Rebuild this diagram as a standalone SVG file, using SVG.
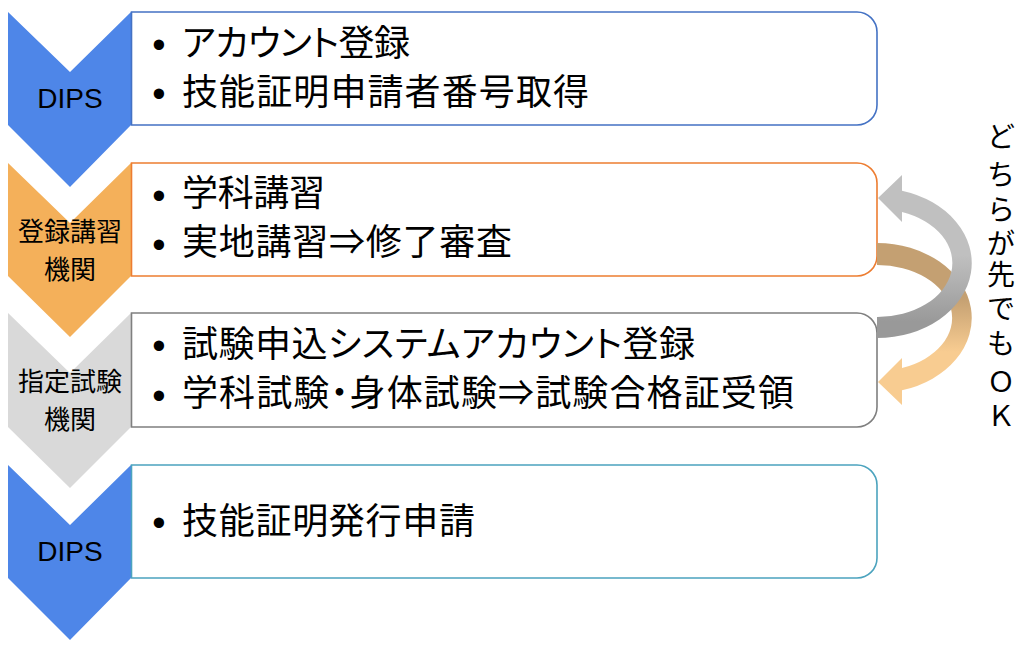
<svg xmlns="http://www.w3.org/2000/svg" width="1024" height="648" viewBox="0 0 1024 648">
<defs>
<style>
.box{fill:#fff;stroke-width:1.6}
.t{font-family:"Noto Sans CJK JP","Noto Sans",sans-serif;font-size:36px;fill:#000;font-feature-settings:"palt"}
.b{font-family:"Liberation Sans",Arial,sans-serif;font-size:38px;fill:#000;text-anchor:middle}
.lab{font-family:"Noto Sans CJK JP","Noto Sans",sans-serif;font-size:26px;fill:#000;text-anchor:middle}
.dips{font-family:"Liberation Sans",Arial,sans-serif;font-size:28px;fill:#000;text-anchor:middle}
.side{font-family:"Noto Sans CJK JP","Noto Sans",sans-serif;font-size:28px;fill:#000;text-anchor:middle}
</style>
<linearGradient id="gGray" gradientUnits="userSpaceOnUse" x1="0" y1="255" x2="0" y2="322">
<stop offset="0" stop-color="#C0C0C0"/>
<stop offset="1" stop-color="#999999"/>
</linearGradient>
<linearGradient id="gTan" gradientUnits="userSpaceOnUse" x1="0" y1="298" x2="0" y2="352">
<stop offset="0" stop-color="#C4A072"/>
<stop offset="1" stop-color="#F8CC91"/>
</linearGradient>
</defs>
<rect width="1024" height="648" fill="#fff"/>

<g id="chevron1">
<path d="M8 12 L70 72 L131 12 L131 125 L70 187 L8 125 Z" fill="#4E86E8"/>
<text class="dips" x="70" y="108">DIPS</text>
</g>
<g id="chevron2">
<path d="M8 163 L70 223 L131 163 L131 276 L70 337 L8 276 Z" fill="#F4B05A"/>
<text class="lab" x="70" y="241">登録講習</text>
<text class="lab" x="70" y="279">機関</text>
</g>
<g id="chevron3">
<path d="M8 313 L70 373 L131 313 L131 427 L70 488 L8 427 Z" fill="#D9D9D9"/>
<text class="lab" x="70" y="391">指定試験</text>
<text class="lab" x="70" y="429">機関</text>
</g>
<g id="chevron4">
<path d="M8 465 L70 525 L131 465 L131 578 L70 640 L8 578 Z" fill="#4E86E8"/>
<text class="dips" x="70" y="561">DIPS</text>
</g>

<g id="box1">
<path class="box" stroke="#4472C4" d="M131.5 12 H857 A20 20 0 0 1 877 32 V105 A20 20 0 0 1 857 125 H131.5 Z"/>
<text class="b" x="159" y="58">•</text>
<text class="t" x="182" y="55.5" textLength="228" lengthAdjust="spacing">アカウント登録</text>
<text class="b" x="159" y="107">•</text>
<text class="t" x="182" y="104.5" textLength="407" lengthAdjust="spacing">技能証明申請者番号取得</text>
</g>
<g id="box2">
<path class="box" stroke="#ED7D31" d="M131.5 163 H857 A20 20 0 0 1 877 183 V256 A20 20 0 0 1 857 276 H131.5 Z"/>
<text class="b" x="159" y="208.5">•</text>
<text class="t" x="182" y="206" textLength="143" lengthAdjust="spacing">学科講習</text>
<text class="b" x="159" y="257.5">•</text>
<text class="t" x="182" y="255" textLength="330" lengthAdjust="spacing">実地講習⇒修了審査</text>
</g>
<g id="box3">
<path class="box" stroke="#7F7F7F" d="M131.5 313 H857 A20 20 0 0 1 877 333 V407 A20 20 0 0 1 857 427 H131.5 Z"/>
<text class="b" x="159" y="359">•</text>
<text class="t" x="182" y="356.5" textLength="513" lengthAdjust="spacing">試験申込システムアカウント登録</text>
<text class="b" x="159" y="408.5">•</text>
<text class="t" x="182" y="406" textLength="612" lengthAdjust="spacing">学科試験・身体試験⇒試験合格証受領</text>
</g>
<g id="box4">
<path class="box" stroke="#4BA3BE" d="M131.5 465 H857 A20 20 0 0 1 877 485 V558 A20 20 0 0 1 857 578 H131.5 Z"/>
<text class="b" x="159" y="536">•</text>
<text class="t" x="182" y="533.5" textLength="293" lengthAdjust="spacing">技能証明発行申請</text>
</g>

<g id="connectors">
<path d="M877 243 A95 75 0 0 1 902 390.3 L902 405 L878 382 L902 358 L902 368 A75 53 0 0 0 877 265 Z" fill="url(#gTan)"/>
<path d="M877 338 A95 75 0 0 0 902 190.7 L902 175 L878 198 L902 222 L902 212 A75 54 0 0 1 877 317 Z" fill="url(#gGray)"/>
</g>

<g id="note">
<text class="side" x="1001 1001 1001 1001 1001 1001 1001 1001 1001" y="147 185 220 254 285 319 354 392 426">どちらが先でもＯＫ</text>
</g>
</svg>
